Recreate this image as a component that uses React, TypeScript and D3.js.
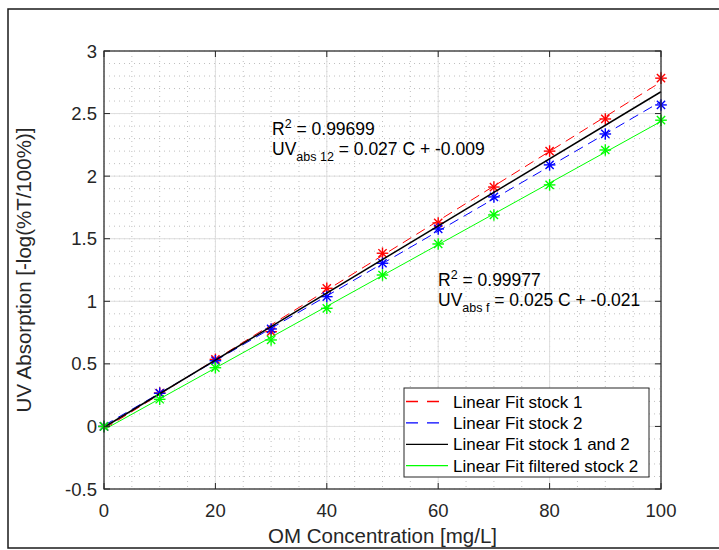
import React from "react";
import * as d3 from "d3";

const concentrations = [0, 10, 20, 30, 40, 50, 60, 70, 80, 90, 100];
const stock1 = [0, 0.267, 0.536, 0.757, 1.104, 1.384, 1.626, 1.913, 2.2, 2.457, 2.783];
const stock2 = [0, 0.265, 0.525, 0.779, 1.037, 1.304, 1.578, 1.834, 2.09, 2.337, 2.569];
const filtered2 = [0, 0.217, 0.469, 0.691, 0.944, 1.21, 1.458, 1.69, 1.93, 2.209, 2.447];

const xTicks = [0, 20, 40, 60, 80, 100];
const yTicks = [-0.5, 0, 0.5, 1, 1.5, 2, 2.5, 3];
const xMinor = d3.range(0, 101, 5);
const yMinor = d3.range(-0.5, 3.001, 0.1);

const legendLabels = [
  "Linear Fit stock 1",
  "Linear Fit stock 2",
  "Linear Fit stock 1 and 2",
  "Linear Fit filtered stock 2",
];

const W = 719;
const H = 550;
const m = { left: 104, right: 661, top: 51, bottom: 489 };
const FONT = "'Liberation Sans', Arial, Helvetica, sans-serif";
const TXT = "#262626";

function fit(xs: number[], ys: number[]) {
  const mx = d3.mean(xs)!;
  const my = d3.mean(ys)!;
  let sxy = 0,
    sxx = 0;
  xs.forEach((x, i) => {
    sxy += (x - mx) * (ys[i] - my);
    sxx += (x - mx) * (x - mx);
  });
  const b = sxy / sxx;
  return { slope: b, intercept: my - b * mx };
}

export default function App() {
  const x = d3.scaleLinear().domain([0, 100]).range([m.left, m.right]);
  const y = d3.scaleLinear().domain([-0.5, 3]).range([m.bottom, m.top]);

  const f1 = fit(concentrations, stock1);
  const f2 = fit(concentrations, stock2);
  const f12 = fit([...concentrations, ...concentrations], [...stock1, ...stock2]);
  const ff = fit(concentrations, filtered2);

  const fitLine = (f: { slope: number; intercept: number }) => {
    const gen = d3
      .line<number>()
      .x((d) => x(d))
      .y((d) => y(f.slope * d + f.intercept));
    return gen([0, 100]) || "";
  };

  const star = (cx: number, cy: number, color: string, key: string) => {
    const r = 5.8;
    const d = r * Math.SQRT1_2;
    return (
      <g key={key} stroke={color} strokeWidth={1.4}>
        <line x1={cx - r} y1={cy} x2={cx + r} y2={cy} />
        <line x1={cx} y1={cy - r} x2={cx} y2={cy + r} />
        <line x1={cx - d} y1={cy - d} x2={cx + d} y2={cy + d} />
        <line x1={cx - d} y1={cy + d} x2={cx + d} y2={cy - d} />
      </g>
    );
  };

  const series = [
    { data: stock1, color: "#ff0000", f: f1, dash: "10,6", w: 1 },
    { data: stock2, color: "#0000ff", f: f2, dash: "10,6", w: 1 },
    { data: null, color: "#000000", f: f12, dash: undefined, w: 1.5 },
    { data: filtered2, color: "#00ff00", f: ff, dash: undefined, w: 1 },
  ];

  const legend = { x: 404, y: 388, w: 245, h: 89, row: 21.4 };

  return (
    <svg
      width={W}
      height={H}
      style={{ position: "absolute", left: 0, top: 0, background: "#fff" }}
      fontFamily={FONT}
    >
      <rect x={0} y={0} width={W} height={H} fill="#fff" />
      <rect x={8} y={9} width={W + 10} height={539} fill="none" stroke="#1a1a1a" strokeWidth={1.5} />

      {/* minor grid */}
      <g stroke="#b0b0b0" strokeWidth={0.8} strokeDasharray="1,4">
        {xMinor.map((v) => (
          <line key={"xm" + v} x1={x(v)} x2={x(v)} y1={m.top} y2={m.bottom} />
        ))}
        {yMinor.map((v, i) => (
          <line key={"ym" + i} x1={m.left} x2={m.right} y1={y(v)} y2={y(v)} />
        ))}
      </g>
      {/* major grid */}
      <g stroke="#dedede" strokeWidth={1}>
        {xTicks.map((v) => (
          <line key={"xg" + v} x1={x(v)} x2={x(v)} y1={m.top} y2={m.bottom} />
        ))}
        {yTicks.map((v) => (
          <line key={"yg" + v} x1={m.left} x2={m.right} y1={y(v)} y2={y(v)} />
        ))}
      </g>

      {/* data */}
      {series.map((s, si) => (
        <g key={"s" + si}>
          <path d={fitLine(s.f)} fill="none" stroke={s.color} strokeWidth={s.w} strokeDasharray={s.dash} />
          {s.data &&
            s.data.map((v, i) => star(x(concentrations[i]), y(v), s.color, `p${si}-${i}`))}
        </g>
      ))}

      {/* axes box */}
      <rect
        x={m.left}
        y={m.top}
        width={m.right - m.left}
        height={m.bottom - m.top}
        fill="none"
        stroke={TXT}
        strokeWidth={1.2}
      />
      <g stroke={TXT} strokeWidth={1}>
        {xTicks.map((v) => (
          <g key={"xt" + v}>
            <line x1={x(v)} x2={x(v)} y1={m.bottom} y2={m.bottom - 6} />
            <line x1={x(v)} x2={x(v)} y1={m.top} y2={m.top + 6} />
          </g>
        ))}
        {yTicks.map((v) => (
          <g key={"yt" + v}>
            <line x1={m.left} x2={m.left + 6} y1={y(v)} y2={y(v)} />
            <line x1={m.right} x2={m.right - 6} y1={y(v)} y2={y(v)} />
          </g>
        ))}
      </g>
      <g fill={TXT} fontSize={18.5}>
        {xTicks.map((v) => (
          <text key={"xl" + v} x={x(v)} y={m.bottom + 28} textAnchor="middle">
            {v}
          </text>
        ))}
        {yTicks.map((v) => (
          <text key={"yl" + v} x={m.left - 7} y={y(v) + 6.5} textAnchor="end">
            {v}
          </text>
        ))}
      </g>
      <text x={(m.left + m.right) / 2} y={543} textAnchor="middle" fontSize={20.5} fill={TXT}>
        OM Concentration [mg/L]
      </text>
      <text
        transform={`translate(31, ${(m.top + m.bottom) / 2}) rotate(-90)`}
        textAnchor="middle"
        fontSize={20.5}
        fill={TXT}
      >
        UV Absorption [-log(%T/100%)]
      </text>

      {/* annotations */}
      <g fill="#000" fontSize={17.5}>
        <text x={272} y={135}>
          R<tspan dy={-7} fontSize={12.5}>2</tspan>
          <tspan dy={7}> = 0.99699</tspan>
        </text>
        <text x={272} y={155}>
          UV<tspan dy={6} fontSize={12.5}>abs 12</tspan>
          <tspan dy={-6}> = 0.027 C + -0.009</tspan>
        </text>
        <text x={438} y={286}>
          R<tspan dy={-7} fontSize={12.5}>2</tspan>
          <tspan dy={7}> = 0.99977</tspan>
        </text>
        <text x={438} y={306}>
          UV<tspan dy={6} fontSize={12.5}>abs f</tspan>
          <tspan dy={-6}> = 0.025 C + -0.021</tspan>
        </text>
      </g>

      {/* legend */}
      <rect x={legend.x} y={legend.y} width={legend.w} height={legend.h} fill="#fff" stroke={TXT} strokeWidth={1} />
      {series.map((s, i) => {
        const ly = legend.y + 13.5 + i * legend.row;
        return (
          <g key={"lg" + i}>
            <line
              x1={legend.x + 2}
              x2={legend.x + 44}
              y1={ly}
              y2={ly}
              stroke={s.color}
              strokeWidth={1.3}
              strokeDasharray={s.dash ? "12,9" : undefined}
            />
            <text x={legend.x + 49} y={ly + 6} fontSize={17} fill="#000">
              {legendLabels[i]}
            </text>
          </g>
        );
      })}
    </svg>
  );
}
